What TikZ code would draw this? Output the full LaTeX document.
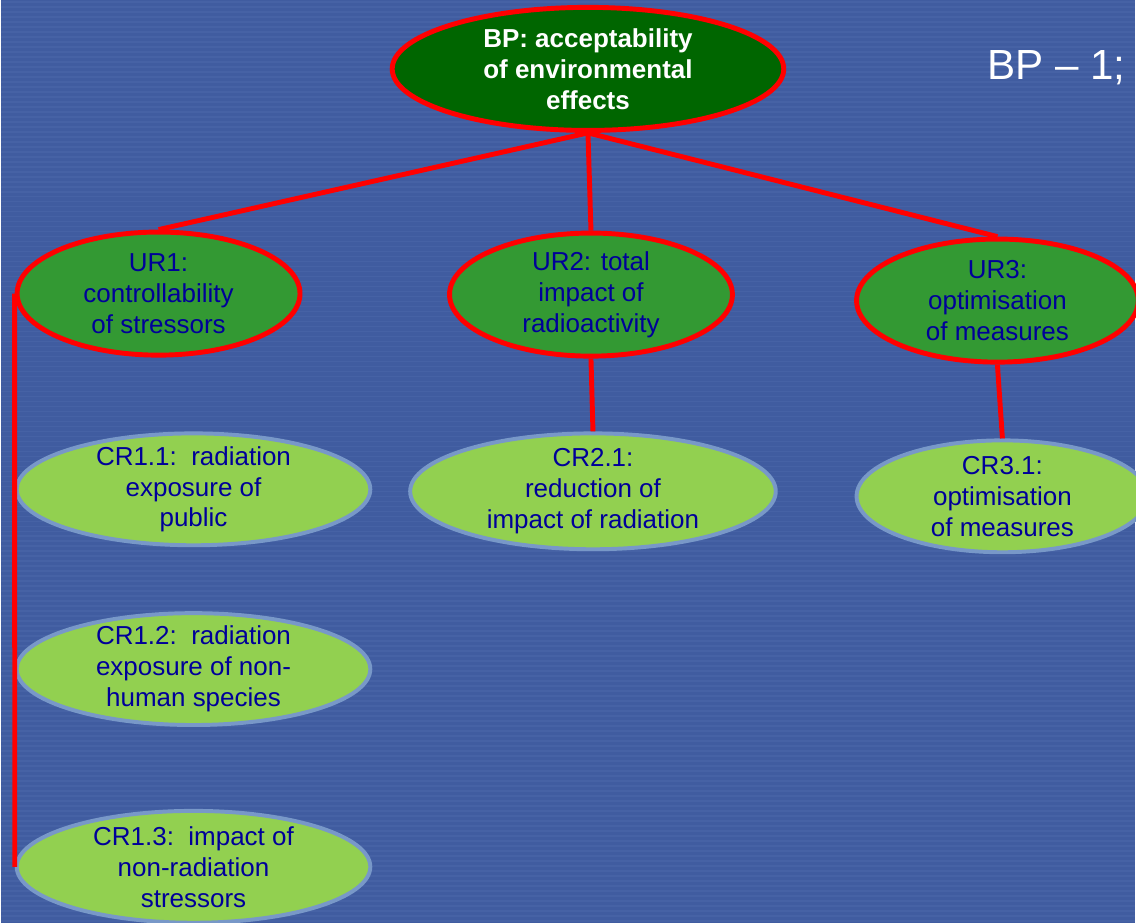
\documentclass[tikz,border=0pt]{standalone}
\usepackage{fontspec}
\setmainfont{Liberation Sans}
\usepackage{tikz}
\usetikzlibrary{shapes.geometric}

\definecolor{slidebg}{RGB}{64,92,160}
\definecolor{slidestripe}{RGB}{70,98,165}
\definecolor{bpgreen}{RGB}{0,102,0}
\definecolor{urgreen}{RGB}{51,153,51}
\definecolor{crgreen}{RGB}{146,208,80}
\definecolor{crrim}{RGB}{120,152,200}
\definecolor{navytext}{RGB}{0,0,153}

\tikzset{
  link/.style={draw=red, line width=3.5pt},
  stripe/.style={draw=slidestripe, line width=1.1pt},
  bpnode/.style={ellipse, draw=red, line width=3.5pt, fill=bpgreen,
    text=white, font=\fontsize{18.5}{22}\selectfont\bfseries, align=center,
    inner xsep=0pt, inner ysep=-4pt, minimum width=9.8cm, minimum height=3.08cm},
  urnode/.style={ellipse, draw=red, line width=3.5pt, fill=urgreen,
    text=navytext, font=\fontsize{18.5}{22}\selectfont, align=center,
    inner xsep=0pt, inner ysep=-4pt, minimum width=7.08cm, minimum height=3.08cm},
  crnode/.style={ellipse, draw=crrim, line width=2.8pt, fill=crgreen,
    text=navytext, font=\fontsize{18.5}{22}\selectfont, align=center,
    inner xsep=0pt, inner ysep=-4pt, minimum width=8.85cm, minimum height=2.8cm}
}

\begin{document}
\begin{tikzpicture}[x=0.025cm,y=-0.025cm]
\fill[slidebg] (0,0) rectangle (1136,924);
\foreach \y in {2,7,...,922}
  \draw[stripe] (0,\y) -- (1136,\y);
\useasboundingbox (0,0) rectangle (1136,924);

\node (title) at (983,80) [anchor=base west, text=white, font=\fontsize{30}{36}\selectfont] {BP – 1;};

\node (bp) at (588,69) [bpnode] {BP: acceptability\\of environmental\\effects};

\node (ur1) at (158,294) [urnode] {UR1:\\controllability\\of stressors};
\node (ur2) at (591,295) [urnode] {UR2: total\\impact of\\radioactivity};
\node (ur3) at (998,301) [urnode, minimum width=7.05cm] {UR3:\\optimisation\\of measures};

\node (cr11) at (193,490) [crnode] {CR1.1:\ \ radiation\\exposure of\\public};
\node (cr12) at (193,670) [crnode] {CR1.2:\ \ radiation\\exposure of non-\\human species};
\node (cr13) at (193,868) [crnode] {CR1.3:\ \ impact of\\non-radiation\\stressors};
\node (cr21) at (593,492) [crnode, minimum width=9.15cm, minimum height=2.9cm] {CR2.1:\\reduction of\\impact of radiation};
\node (cr31) at (1003,497) [crnode, minimum width=7.3cm] {CR3.1:\\optimisation\\of measures};

\draw[link] (bp.south) edge (ur1.north);
\draw[link] (bp.south) edge (ur2.north);
\draw[link] (bp.south) edge (ur3.north);
\draw[link] (ur1.west) edge (cr13.west);
\draw[link] (ur2.south) edge (cr21.north);
\draw[link] (ur3.south) edge (cr31.north);

\end{tikzpicture}
\end{document}
